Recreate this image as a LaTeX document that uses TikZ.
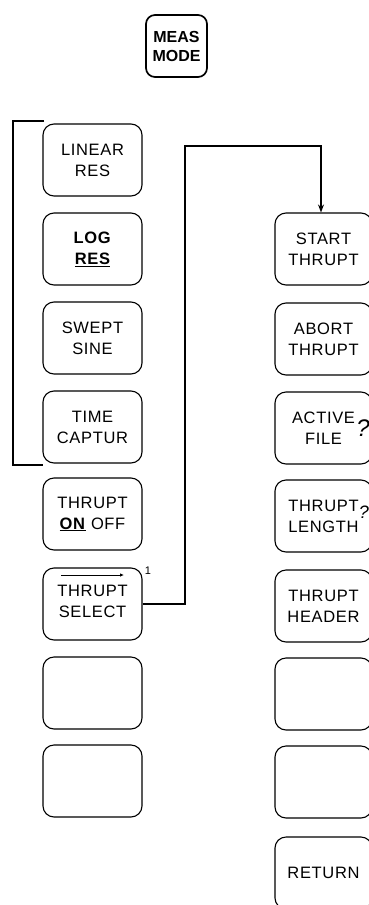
\documentclass[tikz,border=0pt]{standalone}
\usepackage{fontspec}
\setmainfont{Liberation Sans}
\newfontfamily\keyfont[LetterSpace=4]{Liberation Sans}
\usetikzlibrary{arrows.meta}
\begin{document}
\begin{tikzpicture}[x=1pt,y=-1pt,
  key/.style={draw, line width=1.1pt, rounded corners=11pt, minimum width=99pt,
    minimum height=72pt, inner sep=0pt, align=center,
    font=\keyfont\fontsize{16.5}{21}\selectfont},
  rkey/.style={key, minimum width=97pt},
  keytext/.style={inner sep=0pt, align=center, font=\keyfont\fontsize{16.5}{21}\selectfont},
  wire/.style={line width=1.1pt},
  qmark/.style={inner sep=0pt, font=\itshape\fontsize{24}{24}\selectfont}]
\useasboundingbox (0,0) rectangle (368,905);

\node[draw, line width=1.7pt, rounded corners=9pt, minimum width=61pt, minimum height=62pt,
  inner sep=0pt, align=center, font=\bfseries\fontsize{16}{19}\selectfont] (meas) at (176.5,46) {MEAS\\MODE};

% left column
\node[key] (lin) at (92.5,160) {LINEAR\\RES};
\node[key] (log) at (92.5,249) {\textbf{LOG}\\\textbf{\underline{RES}}};
\node[key] (swe) at (92.5,338) {SWEPT\\SINE};
\node[key] (tim) at (92.5,427) {TIME\\CAPTUR};
\node[key] (onoff) at (92.5,514) {THRUPT\\\underline{\textbf{ON}} OFF};
\node[key] (sel) at (92.5,604) {};
\node[keytext] (selt) at (92.5,601) {THRUPT\\SELECT};
\node[key] (e1) at (92.5,693) {};
\node[key] (e2) at (92.5,781) {};
\node[inner sep=0pt, font=\fontsize{11}{11}\selectfont] (one) at (148,571) {1};
\coordinate (sa) at (61,575);
\coordinate (sb) at (124,575);
\draw[line width=0.9pt, -{Latex[length=4pt,width=3.5pt]}] (sa) -- (sb);

% bracket
\coordinate (bt) at (44,121);
\coordinate (bb) at (43,465);
\draw[wire] (bt) -- (13,121) -- (13,465) -- (bb);

% right column
\node[rkey] (start) at (323.5,249) {START\\THRUPT};
\node[rkey] (abort) at (323.5,339) {ABORT\\THRUPT};
\node[rkey] (active) at (323.5,428) {ACTIVE\\FILE};
\node[rkey] (length) at (323.5,516) {THRUPT\\LENGTH};
\node[rkey] (header) at (323.5,606) {THRUPT\\HEADER};
\node[rkey] (r6) at (323.5,694) {};
\node[rkey] (r7) at (323.5,782) {};
\node[rkey] (ret) at (323.5,873) {RETURN};
\node[qmark] (q1) at (363,428) {?};
\node[qmark, font=\itshape\fontsize{18}{18}\selectfont] (q2) at (364,512) {?};

% connector
\draw[wire, -{Stealth[length=8pt,width=6pt]}] (sel.east) -| (185,146) -| ([xshift=-2.5pt]start.north);
\end{tikzpicture}
\end{document}
